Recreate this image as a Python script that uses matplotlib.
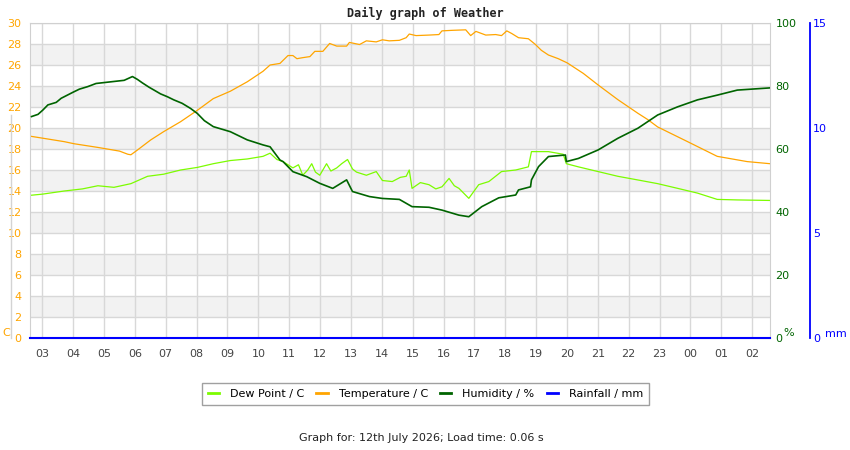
import matplotlib.pyplot as plt
from matplotlib.lines import Line2D

# time of reading in hours (values above 24 are after midnight)
temp_hours = [2.65, 3.71, 4.03, 4.80, 5.00, 5.50, 5.77, 5.87, 6.08, 6.51, 6.93, 7.48,
              8.03, 8.54, 9.09, 9.64, 10.15, 10.38, 10.70, 10.96, 11.12, 11.25, 11.44,
              11.67, 11.83, 12.09, 12.31, 12.54, 12.86, 12.95, 13.28, 13.50, 13.82,
              14.02, 14.24, 14.57, 14.79, 14.89, 15.11, 15.53, 15.85, 15.95, 16.27,
              16.72, 16.88, 17.05, 17.37, 17.69, 17.88, 18.05, 18.21, 18.43, 18.75,
              18.98, 19.17, 19.40, 19.72, 20.01, 20.53, 21.01, 21.65, 22.30, 22.62,
              22.94, 23.91, 24.87, 25.84, 26.58]
temp_c = [19.2, 18.7, 18.5, 18.15, 18.05, 17.8, 17.5, 17.45, 17.9, 18.86, 19.65, 20.6,
          21.7, 22.8, 23.5, 24.4, 25.4, 26.0, 26.15, 26.9, 26.9, 26.6, 26.7,
          26.8, 27.3, 27.3, 28.05, 27.8, 27.8, 28.15, 27.95, 28.3, 28.2,
          28.4, 28.3, 28.35, 28.6, 28.95, 28.8, 28.85, 28.9, 29.25, 29.3,
          29.35, 28.8, 29.2, 28.85, 28.9, 28.8, 29.25, 29.0, 28.6, 28.5,
          27.95, 27.4, 26.95, 26.6, 26.2, 25.2, 24.1, 22.7, 21.4, 20.8,
          20.1, 18.7, 17.3, 16.8, 16.6]

dew_hours = [2.65, 3.00, 3.71, 4.30, 4.80, 5.32, 5.87, 6.41, 6.93, 7.48, 8.03, 8.54,
             9.09, 9.64, 10.15, 10.38, 10.60, 10.80, 11.12, 11.30, 11.44, 11.60, 11.73,
             11.85, 11.99, 12.21, 12.35, 12.54, 12.70, 12.89, 13.05, 13.18, 13.50,
             13.82, 14.02, 14.34, 14.60, 14.79, 14.89, 14.98, 15.25, 15.53, 15.75,
             15.95, 16.18, 16.35, 16.50, 16.82, 17.14, 17.47, 17.88, 18.34, 18.75,
             18.85, 19.40, 19.88, 19.98, 20.37, 21.01, 21.65, 22.30, 22.94, 23.59,
             24.23, 24.87, 25.52, 26.58]
dew_c = [13.6, 13.7, 14.0, 14.2, 14.5, 14.35, 14.7, 15.4, 15.6, 16.0, 16.25, 16.6,
         16.9, 17.05, 17.3, 17.6, 17.0, 16.8, 16.2, 16.5, 15.5, 16.0, 16.6,
         15.8, 15.5, 16.6, 15.9, 16.2, 16.6, 17.0, 16.1, 15.8, 15.5,
         15.85, 15.0, 14.9, 15.3, 15.4, 16.0, 14.25, 14.8, 14.6, 14.2,
         14.4, 15.2, 14.5, 14.25, 13.3, 14.6, 14.9, 15.85, 16.0, 16.3,
         17.75, 17.75, 17.5, 16.6, 16.3, 15.85, 15.4, 15.05, 14.7, 14.25,
         13.8, 13.2, 13.15, 13.1]

hum_hours = [2.65, 2.86, 3.02, 3.18, 3.45, 3.61, 3.77, 3.99, 4.20, 4.47, 4.74, 5.65,
             5.92, 6.08, 6.24, 6.46, 6.62, 6.83, 7.05, 7.26, 7.53, 7.80, 8.02, 8.25,
             8.54, 9.09, 9.64, 10.15, 10.38, 10.70, 10.80, 11.12, 11.57, 11.99, 12.41,
             12.86, 13.05, 13.60, 14.02, 14.57, 14.98, 15.53, 15.95, 16.50, 16.82,
             17.24, 17.79, 18.34, 18.43, 18.82, 18.85, 19.08, 19.40, 19.95, 19.98,
             20.37, 21.01, 21.65, 22.30, 22.94, 23.59, 24.23, 24.87, 25.52, 26.58]
hum_pct = [70.3, 71, 72.4, 74, 74.8, 76.1, 76.9, 78, 79, 79.8, 80.8, 81.8,
           83, 82.1, 81, 79.6, 78.7, 77.5, 76.6, 75.6, 74.5, 72.9, 71.3, 69,
           67.1, 65.5, 62.9, 61.3, 60.7, 56.5, 56, 52.8, 51.2, 49.1, 47.5,
           50.2, 46.5, 44.9, 44.3, 44.0, 41.7, 41.5, 40.6, 39.0, 38.5,
           41.7, 44.5, 45.4, 47, 48, 50.2, 54.4, 57.6, 58.1, 56,
           57, 59.7, 63.4, 66.6, 70.8, 73.4, 75.6, 77.1, 78.7, 79.4]

rain_hours = [2.6, 26.58]
rain_mm = [0, 0]

tick_hours = list(range(3, 27))
tick_labels = ['03', '04', '05', '06', '07', '08', '09', '10', '11', '12', '13', '14',
               '15', '16', '17', '18', '19', '20', '21', '22', '23', '00', '01', '02']

W, H = 850, 450
fig = plt.figure(figsize=(8.5, 4.5), dpi=100)
ax = fig.add_axes([30 / W, 1 - 338 / H, 740 / W, 315 / H])

# grey bands and grid
for y0 in range(2, 30, 4):
    ax.axhspan(y0, y0 + 2, color='#f2f2f2', zorder=0, lw=0)
ax.set_axisbelow(True)
ax.grid(True, color='#d8d8d8', lw=1)
ax.set_xlim(2.6, 26.58)
ax.set_ylim(0, 30)
ax.set_yticks(range(0, 31, 2))
ax.set_xticks(tick_hours)
ax.set_xticklabels(tick_labels)
ax.tick_params(axis='y', length=0, pad=6, labelsize=8, labelcolor='#FFA500')
ax.tick_params(axis='x', length=0, pad=8, labelsize=8, labelcolor='#444444')
for s in ax.spines.values():
    s.set_color('#d0d0d0')

ax.plot(temp_hours, temp_c, color='#FFA500', lw=0.9)
ax.plot(dew_hours, dew_c, color='#7CFC00', lw=0.9)

# humidity axis
ax2 = ax.twinx()
ax2.set_ylim(0, 100)
ax2.set_yticks(range(0, 101, 20))
ax2.tick_params(axis='y', length=0, pad=4, labelsize=8, labelcolor='#006400')
for s in ax2.spines.values():
    s.set_visible(False)
ax2.plot(hum_hours, hum_pct, color='#006400', lw=1.2)

# rainfall axis, 40 px right of the plot
ax3 = ax.twinx()
ax3.set_ylim(0, 15)
ax3.set_yticks([0, 5, 10, 15])
for k, s in ax3.spines.items():
    s.set_visible(k == 'right')
ax3.spines['right'].set_position(('outward', 40 * 72 / 100))
ax3.spines['right'].set_color('#0000FF')
ax3.spines['right'].set_linewidth(1.3)
ax3.tick_params(axis='y', length=0, pad=2, labelsize=8, labelcolor='#0000FF')
ax3.plot(rain_hours, rain_mm, color='#0000FF', lw=1.5, clip_on=False)

# unit labels
fig.text(6 / W, 1 - 333 / H, 'C', color='#FFA500', fontsize=8, ha='center', va='center')
fig.text(789 / W, 1 - 333 / H, '%', color='#006400', fontsize=8, ha='center', va='center')
fig.text(836 / W, 1 - 334 / H, 'mm', color='#0000FF', fontsize=8, ha='center', va='center')
fig.add_artist(Line2D([11 / W, 11 / W], [1 - 115 / H, 1 - 338 / H], color='#d3d3d3', lw=1))

fig.text(425 / W, 1 - 13 / H, 'Daily graph of Weather', family='DejaVu Sans Mono',
         weight='bold', fontsize=8.5, ha='center', va='center', color='#222222')

handles = [Line2D([], [], color=c, lw=2) for c in ['#7CFC00', '#FFA500', '#006400', '#0000FF']]
labels = ['Dew Point / C', 'Temperature / C', 'Humidity / %', 'Rainfall / mm']
leg = fig.legend(handles, labels, loc='center', bbox_to_anchor=(425.5 / W, 1 - 394 / H),
                 ncol=4, fontsize=8, handlelength=1.0, columnspacing=1.1, handletextpad=1.0,
                 fancybox=False, borderpad=0.5, borderaxespad=0, edgecolor='#888888')
leg.get_frame().set_linewidth(1)

fig.text(421 / W, 1 - 438 / H, 'Graph for: 12th July 2026; Load time: 0.06 s',
         fontsize=8, ha='center', va='center', color='#222222')

fig.savefig('out.png', dpi=100)
